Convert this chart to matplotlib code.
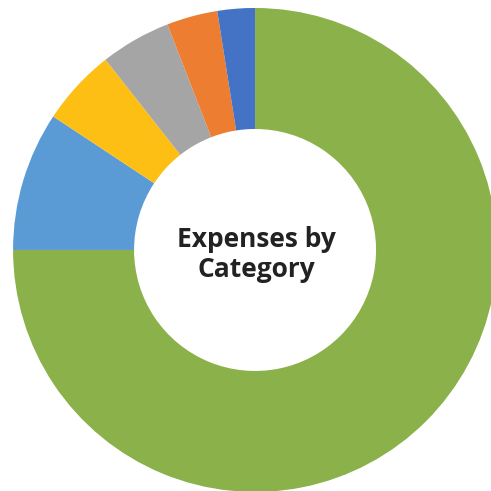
import matplotlib
matplotlib.use("Agg")
import matplotlib.pyplot as plt

# Expense shares (percent), clockwise from 12 o'clock
categories = ["Category 6", "Category 5", "Category 4", "Category 3", "Category 2", "Category 1"]
shares = [75.0, 9.3, 5.1, 4.7, 3.4, 2.5]
colors = ["#8BB14A", "#5B9BD5", "#FDBF14", "#A5A5A5", "#ED7D31", "#4472C4"]

fig = plt.figure(figsize=(4.91, 4.91), dpi=100)
ax = fig.add_axes([0, 0, 1, 1])

ax.pie(shares, colors=colors, startangle=90, counterclock=False,
       radius=1.0, wedgeprops=dict(width=0.5, linewidth=0))

ax.text(0.005, -0.02, "Expenses by\nCategory", ha="center", va="center",
        fontsize=19, fontweight="bold", family="Open Sans", color="#222222",
        linespacing=1.15)

ax.set_xlim(-1.054, 0.975)
ax.set_ylim(-0.996, 1.033)
ax.set_aspect("equal")
ax.axis("off")

fig.savefig("out.png", dpi=100)
